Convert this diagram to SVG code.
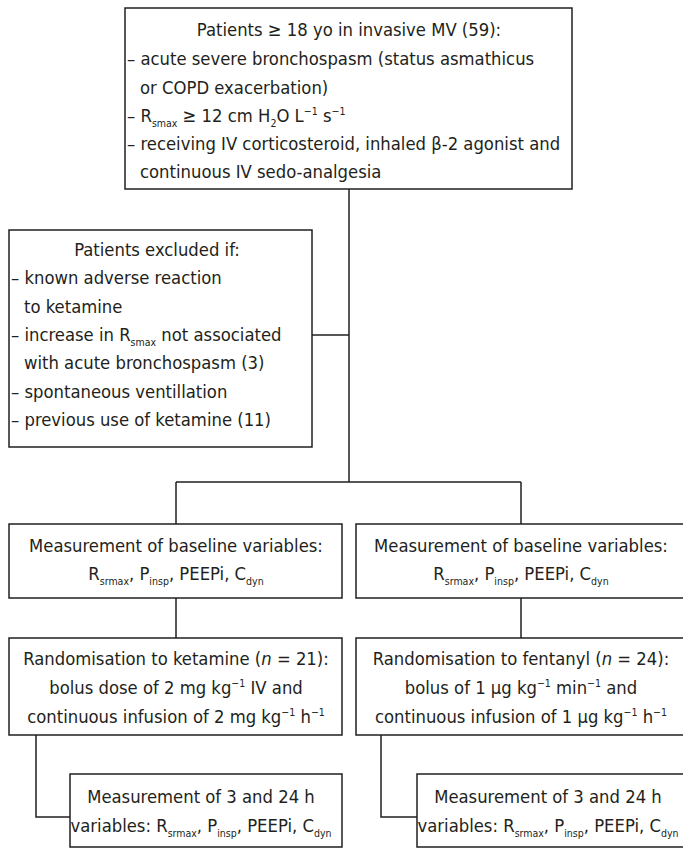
<svg xmlns="http://www.w3.org/2000/svg" width="683" height="848" viewBox="0 0 683 848">
<style>
.box{fill:#fff;stroke:#231f20;stroke-width:1.5}
.ln{fill:none;stroke:#231f20;stroke-width:1.5}
text{font-family:"Liberation Sans Narrow","DejaVu Sans Condensed","Liberation Sans",sans-serif;font-size:18.3px;fill:#231f20}
.c{text-anchor:middle}
.s{font-size:10.5px}
.p{font-size:10.5px}
</style>
<rect width="683" height="848" fill="#fff"/>
<g id="connectors">
<path class="ln" d="M349 189V482M312 335H349M176 482H521M176 482V524M521 482V524M176 598V638M521 598V638M36 735V817H70M381 735V817H417"/>
</g>
<g id="inclusion">
<rect class="box" x="125" y="8" width="447" height="181"/>
<text class="c" x="349" y="36">Patients ≥ 18 yo in invasive MV (59):</text>
<text x="127" y="65">– acute severe bronchospasm (status asmathicus</text>
<text x="140" y="94">or COPD exacerbation)</text>
<text x="127" y="122">– R<tspan class="s" dy="5">smax</tspan><tspan dy="-5"> ≥ 12 cm H</tspan><tspan class="s" dy="5">2</tspan><tspan dy="-5">O L</tspan><tspan class="p" dy="-7">−1</tspan><tspan dy="7"> s</tspan><tspan class="p" dy="-7">−1</tspan></text>
<text x="127" y="150">– receiving IV corticosteroid, inhaled β-2 agonist and</text>
<text x="140" y="178">continuous IV sedo-analgesia</text>
</g>
<g id="exclusion">
<rect class="box" x="9" y="230" width="303" height="217"/>
<text class="c" x="157" y="256">Patients excluded if:</text>
<text x="11" y="284">– known adverse reaction</text>
<text x="24" y="313">to ketamine</text>
<text x="11" y="341">– increase in R<tspan class="s" dy="5">smax</tspan><tspan dy="-5"> not associated</tspan></text>
<text x="24" y="369">with acute bronchospasm (3)</text>
<text x="11" y="398">– spontaneous ventillation</text>
<text x="11" y="426">– previous use of ketamine (11)</text>
</g>
<g id="baseline-ketamine">
<rect class="box" x="9" y="524" width="333" height="74"/>
<text class="c" x="176" y="552">Measurement of baseline variables:</text>
<text class="c" x="176" y="580">R<tspan class="s" dy="5">srmax</tspan><tspan dy="-5">, P</tspan><tspan class="s" dy="5">insp</tspan><tspan dy="-5">, PEEPi, C</tspan><tspan class="s" dy="5">dyn</tspan></text>
</g>
<g id="baseline-fentanyl">
<rect class="box" x="356" y="524" width="330" height="74"/>
<text class="c" x="521" y="552">Measurement of baseline variables:</text>
<text class="c" x="521" y="580">R<tspan class="s" dy="5">srmax</tspan><tspan dy="-5">, P</tspan><tspan class="s" dy="5">insp</tspan><tspan dy="-5">, PEEPi, C</tspan><tspan class="s" dy="5">dyn</tspan></text>
</g>
<g id="random-ketamine">
<rect class="box" x="9" y="638" width="333" height="97"/>
<text class="c" x="176" y="665">Randomisation to ketamine (<tspan font-style="italic">n</tspan> = 21):</text>
<text class="c" x="176" y="694">bolus dose of 2 mg kg<tspan class="p" dy="-7">−1</tspan><tspan dy="7"> IV and</tspan></text>
<text class="c" x="176" y="723">continuous infusion of 2 mg kg<tspan class="p" dy="-7">−1</tspan><tspan dy="7"> h</tspan><tspan class="p" dy="-7">−1</tspan></text>
</g>
<g id="random-fentanyl">
<rect class="box" x="356" y="638" width="330" height="97"/>
<text class="c" x="521" y="665">Randomisation to fentanyl (<tspan font-style="italic">n</tspan> = 24):</text>
<text class="c" x="521" y="694">bolus of 1 μg kg<tspan class="p" dy="-7">−1</tspan><tspan dy="7"> min</tspan><tspan class="p" dy="-7">−1</tspan><tspan dy="7"> and</tspan></text>
<text class="c" x="521" y="723">continuous infusion of 1 μg kg<tspan class="p" dy="-7">−1</tspan><tspan dy="7"> h</tspan><tspan class="p" dy="-7">−1</tspan></text>
</g>
<g id="followup-ketamine">
<rect class="box" x="70" y="774" width="272" height="73"/>
<text class="c" x="201" y="803">Measurement of 3 and 24 h</text>
<text class="c" x="201" y="832">variables: R<tspan class="s" dy="5">srmax</tspan><tspan dy="-5">, P</tspan><tspan class="s" dy="5">insp</tspan><tspan dy="-5">, PEEPi, C</tspan><tspan class="s" dy="5">dyn</tspan></text>
</g>
<g id="followup-fentanyl">
<rect class="box" x="417" y="774" width="272" height="73"/>
<text class="c" x="548" y="803">Measurement of 3 and 24 h</text>
<text class="c" x="548" y="832">variables: R<tspan class="s" dy="5">srmax</tspan><tspan dy="-5">, P</tspan><tspan class="s" dy="5">insp</tspan><tspan dy="-5">, PEEPi, C</tspan><tspan class="s" dy="5">dyn</tspan></text>
</g>
</svg>
